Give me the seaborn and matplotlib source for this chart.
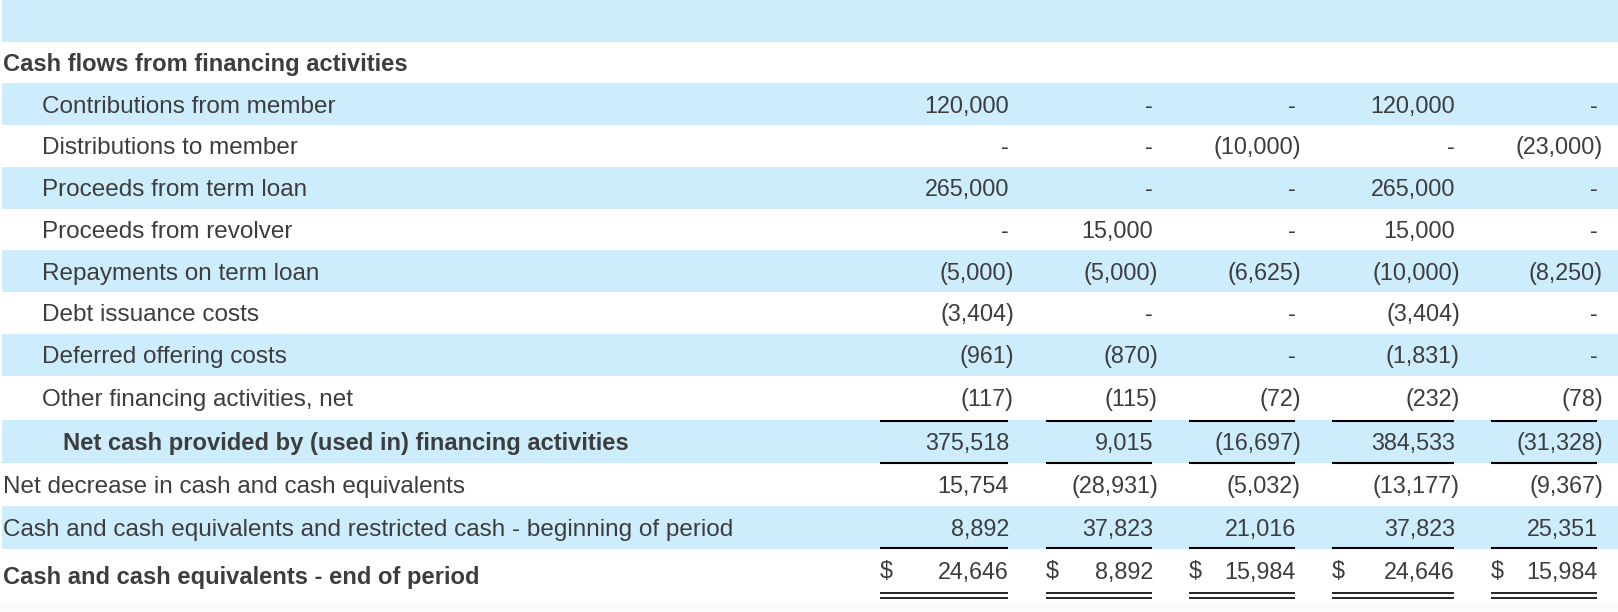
import matplotlib
matplotlib.use("Agg")
import matplotlib.pyplot as plt
import seaborn as sns


row_labels = [
    "Cash flows from financing activities",
    "Contributions from member",
    "Distributions to member",
    "Proceeds from term loan",
    "Proceeds from revolver",
    "Repayments on term loan",
    "Debt issuance costs",
    "Deferred offering costs",
    "Other financing activities, net",
    "Net cash provided by (used in) financing activities",
    "Net decrease in cash and cash equivalents",
    "Cash and cash equivalents and restricted cash - beginning of period",
    "Cash and cash equivalents - end of period",
]
label_indent = [0, 1, 1, 1, 1, 1, 1, 1, 1, 2, 0, 0, 0]
label_bold = [True, False, False, False, False, False, False, False, False, True, False, False, True]

# 0 means "-" in the statement
contributions = [120000, 0, 0, 120000, 0]
distributions = [0, 0, -10000, 0, -23000]
term_loan = [265000, 0, 0, 265000, 0]
revolver = [0, 15000, 0, 15000, 0]
repayments = [-5000, -5000, -6625, -10000, -8250]
debt_costs = [-3404, 0, 0, -3404, 0]
offering_costs = [-961, -870, 0, -1831, 0]
other_financing = [-117, -115, -72, -232, -78]
net_financing = [375518, 9015, -16697, 384533, -31328]
net_decrease = [15754, -28931, -5032, -13177, -9367]
cash_begin = [8892, 37823, 21016, 37823, 25351]
cash_end = [24646, 8892, 15984, 24646, 15984]

row_values = [
    None, contributions, distributions, term_loan, revolver, repayments,
    debt_costs, offering_costs, other_financing, net_financing,
    net_decrease, cash_begin, cash_end,
]

# layout (pixels)
W, H = 1618, 612
BLUE = "#cdedfd"
TEXT = "#3d3d3d"
band_top = 41.5
row_tops = [41.5 + i * 41.75 for i in range(9)] + [420.25, 463.0, 506.0, 548.5]
row_bottoms = row_tops[1:] + [612]
shaded = [False, True, False, True, False, True, False, True, False, True, False, True, False]
col_left = [880, 1046, 1189, 1332, 1491]
col_right = [1008, 1152, 1295, 1454, 1597]
single_rule_rows = [8, 9, 11]
indent_px = [3, 42, 63]


def fmt(v):
    if v == 0:
        return "-"
    if v < 0:
        return f"({-v:,})"
    return f"{v:,}"


sns.set_theme(style="white")
plt.rcParams["font.family"] = ["Liberation Sans", "DejaVu Sans"]

fig = plt.figure(figsize=(W / 100, H / 100), dpi=100)
ax = fig.add_axes([0, 0, 1, 1])
ax.set_xlim(0, W)
ax.set_ylim(H, 0)
ax.axis("off")

# header band
ax.axhspan(0, band_top, xmin=2 / W, xmax=1, color=BLUE, lw=0)
# faint strip at the very bottom
ax.axhspan(602, H, color="#fcfcfc", lw=0)

for i, label in enumerate(row_labels):
    top, bottom = row_tops[i], row_bottoms[i]
    if shaded[i]:
        ax.axhspan(top, bottom, xmin=2 / W, xmax=1, color=BLUE, lw=0)
    last = i == len(row_labels) - 1
    center = 570 if last else (top + bottom) / 2
    label_base = 584 if last else center + 8.5
    bold = label_bold[i]
    ax.text(indent_px[label_indent[i]], label_base, label,
            fontsize=17.1 if bold else 17.5, color=TEXT, ha="left", va="baseline",
            fontweight="bold" if bold else "normal")
    vals = row_values[i]
    if vals is None:
        continue
    for j, v in enumerate(vals):
        edge = col_right[j] + 1
        x = edge + 5 if v < 0 else edge
        ax.text(x, center + 8.5, fmt(v), fontsize=16.8, color=TEXT,
                ha="right", va="baseline")
        if last:
            ax.text(col_left[j], center + 8.5, "$", fontsize=16.8, color=TEXT,
                    ha="left", va="baseline")

# rules under subtotal rows
for r in single_rule_rows:
    y = row_bottoms[r] - 0.5 if r != 8 else row_bottoms[r] + 0.5
    for j in range(5):
        ax.plot([col_left[j], col_right[j]], [y, y], color="black", lw=1.5,
                solid_capstyle="butt")
for y in (593, 597.5):
    for j in range(5):
        ax.plot([col_left[j], col_right[j]], [y, y], color="black", lw=1.2,
                solid_capstyle="butt")

fig.savefig("out.png", dpi=100)
